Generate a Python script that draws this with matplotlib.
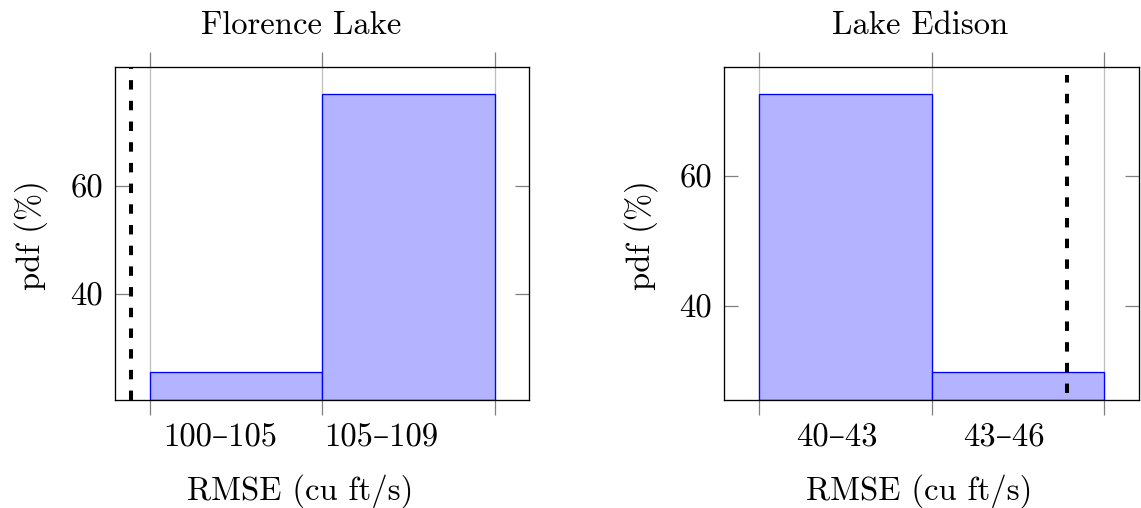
import matplotlib
matplotlib.use("Agg")
import matplotlib.pyplot as plt
from matplotlib.ticker import FixedLocator, FixedFormatter, NullFormatter

plt.rcParams["font.family"] = ["cmr10", "DejaVu Serif"]
plt.rcParams["axes.formatter.use_mathtext"] = True
plt.rcParams["lines.scale_dashes"] = False

# ---- data -------------------------------------------------------------
titles = ["Florence Lake", "Lake Edison"]
bin_labels_florence = ["100–105", "105–109"]
bin_labels_edison = ["40–43", "43–46"]
pdf_florence = [25.7, 76.75]
pdf_edison = [72.6, 29.8]
# observed RMSE marker, in bin units (0 = left edge of first bin)
observed_florence = -0.11
observed_edison = 1.786
observed_edison_span = (26.6, 75.6)
# positions of the bin-range labels, in bin units
label_pos_florence = [0.409, 1.341]
label_pos_edison = [0.452, 1.416]
ytick_values = [40, 60]

FS = 23.5
W, H = 1141, 508
fig = plt.figure(figsize=(W / 100, H / 100), dpi=100)

ax1 = fig.add_axes([115.3 / W, 1 - 400 / H, 414.0 / W, 333.3 / H])
ax2 = fig.add_axes([724.3 / W, 1 - 400 / H, 414.7 / W, 333.3 / H])


def draw_panel(ax, title, values, labels, label_pos, title_x, ylabel_x):
    n = len(values)
    edges = list(range(n + 1))
    lo, hi = min(values), max(values)
    rng = hi - lo
    ymin, ymax = lo - 0.1 * rng, hi + 0.1 * rng

    ax.bar(edges[:-1], [v - ymin for v in values], bottom=ymin, width=1,
           align="edge", facecolor="#b3b3ff", edgecolor="#0000ff",
           linewidth=0.95, zorder=2)

    ax.set_xlim(-0.1 * n, n + 0.1 * n)
    ax.set_ylim(ymin, ymax)
    ax.set_axisbelow(True)

    # bin edges: gray outward ticks + grid lines
    ax.xaxis.set_major_locator(FixedLocator(edges))
    ax.xaxis.set_major_formatter(NullFormatter())
    ax.xaxis.set_minor_locator(FixedLocator(label_pos))
    ax.xaxis.set_minor_formatter(FixedFormatter(labels))
    ax.tick_params(axis="x", which="major", direction="out", length=10.5,
                   width=0.9, color="#808080", top=True, bottom=True)
    ax.tick_params(axis="x", which="minor", length=0, pad=17,
                   labelsize=FS, top=False, bottom=True)
    ax.grid(axis="x", which="major", color="#bfbfbf", linewidth=0.9)

    ax.yaxis.set_major_locator(FixedLocator(ytick_values))
    ax.yaxis.set_major_formatter(FixedFormatter([str(v) for v in ytick_values]))
    ax.tick_params(axis="y", direction="in", length=10, width=0.9,
                   color="#808080", left=True, right=True, labelsize=FS,
                   pad=9)

    for sp in ax.spines.values():
        sp.set_linewidth(0.95)
        sp.set_color("black")

    ax.set_title(title, fontsize=FS, x=title_x, y=1.097, pad=0,
                 va="baseline")
    ax.set_xlabel("RMSE (cu ft/s)", fontsize=FS, va="baseline")
    ax.xaxis.set_label_coords(title_x - 0.002, -0.300)
    ax.set_ylabel("pdf (%)", fontsize=FS, va="center")
    ax.yaxis.set_label_coords(ylabel_x, 0.495)


draw_panel(ax1, titles[0], pdf_florence, bin_labels_florence,
           label_pos_florence, 0.448, -0.2024)
draw_panel(ax2, titles[1], pdf_edison, bin_labels_edison,
           label_pos_edison, 0.472, -0.1997)

ax1.axvline(observed_florence, color="black", linewidth=2.9,
            dashes=(6.8, 8.1), zorder=3)
ax2.vlines(observed_edison, observed_edison_span[0], observed_edison_span[1],
           color="black", linewidth=2.9, linestyles=[(0, (6.8, 8.1))],
           zorder=3)

fig.savefig("out.png", dpi=100)
